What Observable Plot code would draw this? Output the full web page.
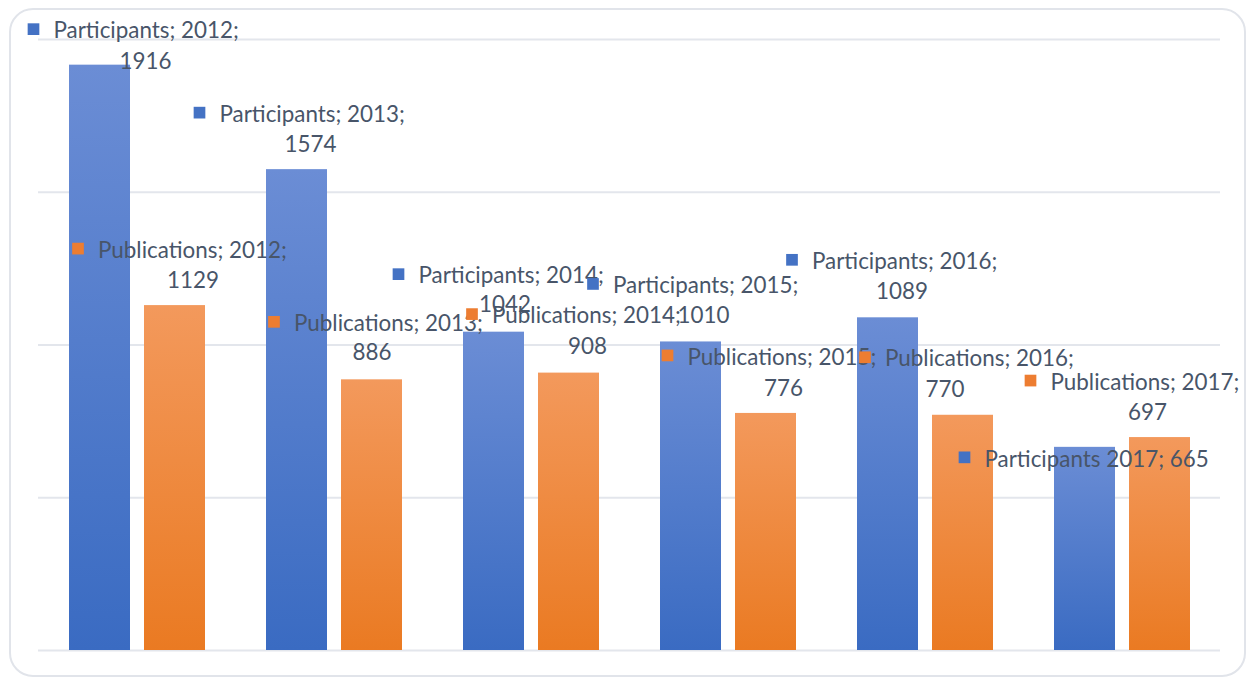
<!DOCTYPE html>
<html>
<head>
<meta charset="utf-8">
<script src="https://cdn.jsdelivr.net/npm/d3@7"></script>
<script src="https://cdn.jsdelivr.net/npm/@observablehq/plot@0.6"></script>
<style>
  html, body { margin: 0; padding: 0; background: #ffffff; }
  #wrap { position: relative; width: 1248px; height: 679px; overflow: hidden; }
  #frame { position: absolute; left: 9px; top: 8px; width: 1237px; height: 669px; box-sizing: border-box;
           border: 2px solid #e1e4ea; border-radius: 24px; }
  #chart { position: absolute; left: 0; top: 0; }
</style>
</head>
<body>
<div id="wrap"><div id="frame"></div><div id="chart"></div></div>
<script>
// ---- data ----
const years = ["2012", "2013", "2014", "2015", "2016", "2017"];
const seriesNames = ["Participants", "Publications"];
const participants = [1916, 1574, 1042, 1010, 1089, 665];
const publications = [1129, 886, 908, 776, 770, 697];
const gridTicks = [0, 500, 1000, 1500, 2000];
// label texts (line 1, line 2) as shown in the reference
const labelLine1 = {
  Participants: ["Participants; 2012;", "Participants; 2013;", "Participants; 2014;", "Participants; 2015;", "Participants; 2016;", "Participants 2017; 665"],
  Publications: ["Publications; 2012;", "Publications; 2013;", "Publications; 2014;", "Publications; 2015;", "Publications; 2016;", "Publications; 2017;"]
};
const labelLine2 = {
  Participants: ["1916", "1574", "1042", "1010", "1089", ""],
  Publications: ["1129", "886", "908", "776", "770", "697"]
};

// ---- layout (label offsets relative to the bar top, in px) ----
const labelLayout = {
  Participants: [
    {l1x: -46.5, l1y: -34, l2x: 45.5, l2y: -3},
    {l1x: -77.5, l1y: -55, l2x: 13.5, l2y: -25},
    {l1x: -75.5, l1y: -56, l2x: 11, l2y: -27},
    {l1x: -78, l1y: -56, l2x: 12.5, l2y: -26},
    {l1x: -76, l1y: -56, l2x: 14, l2y: -26},
    {l1x: -100.5, l1y: 12, l2x: 0, l2y: 0}
  ],
  Publications: [
    {l1x: -77, l1y: -55, l2x: 18, l2y: -25},
    {l1x: -78, l1y: -56, l2x: 0, l2y: -27},
    {l1x: -77, l1y: -57, l2x: 18.5, l2y: -26},
    {l1x: -78.5, l1y: -56, l2x: 17.5, l2y: -25},
    {l1x: -78, l1y: -56, l2x: -18, l2y: -25},
    {l1x: -109.5, l1y: -55, l2x: -12.5, l2y: -25}
  ]
};
const colors = {Participants: "#4472c4", Publications: "#ed7d31"};
const gradId = {Participants: "gradBlue", Publications: "gradOrange"};
const textColor = "#485569";
const fontFamily = "Lato, 'Open Sans', sans-serif";
const fontSize = 22.4;

// ---- table ----
const rows = [];
years.forEach((y, i) => {
  rows.push({year: y, series: "Participants", value: participants[i], i});
  rows.push({year: y, series: "Publications", value: publications[i], i});
});

const marks = [];
marks.push(Plot.ruleY(gridTicks, {stroke: "#e3e6ec", strokeWidth: 2}));
for (const s of seriesNames) {
  marks.push(Plot.barY(rows.filter(d => d.series === s), {
    fx: "year", x: "series", y: "value", fill: `url(#${gradId[s]})`
  }));
}
for (const d of rows) {
  const L = labelLayout[d.series][d.i];
  const t1 = labelLine1[d.series][d.i];
  const t2 = labelLine2[d.series][d.i];
  marks.push(Plot.dot([d], {
    fx: "year", x: "series", y: "value", dx: L.l1x - 20, dy: L.l1y - 2,
    symbol: "square", r: 6.6, fill: colors[d.series], stroke: "none"
  }));
  marks.push(Plot.text([d], {
    fx: "year", x: "series", y: "value", dx: L.l1x, dy: L.l1y,
    text: () => t1, textAnchor: "start", fill: textColor, fontSize
  }));
  if (t2) {
    marks.push(Plot.text([d], {
      fx: "year", x: "series", y: "value", dx: L.l2x, dy: L.l2y,
      text: () => t2, textAnchor: "middle", fill: textColor, fontSize
    }));
  }
}

const chart = Plot.plot({
  width: 1248,
  height: 679,
  marginLeft: 38,
  marginRight: 28,
  marginTop: 39,
  marginBottom: 29,
  style: {fontFamily, background: "transparent", overflow: "visible"},
  fx: {domain: years, padding: 0, axis: null, label: null},
  x: {domain: seriesNames, paddingInner: 0.1867, paddingOuter: 0.402, axis: null, label: null},
  y: {domain: [0, 2000], axis: null, label: null},
  marks
});

// gradients (per bar, top lighter)
const defs = d3.create("svg:defs");
const gradStops = {
  gradBlue: ["#6b8dd5", "#3a6bc2"],
  gradOrange: ["#f3995c", "#ea7a22"]
};
for (const [id, [top, bottom]] of Object.entries(gradStops)) {
  const g = defs.append("linearGradient").attr("id", id).attr("x1", 0).attr("y1", 0).attr("x2", 0).attr("y2", 1);
  g.append("stop").attr("offset", "0%").attr("stop-color", top);
  g.append("stop").attr("offset", "100%").attr("stop-color", bottom);
}
chart.insertBefore(defs.node(), chart.firstChild);
document.getElementById("chart").appendChild(chart);
</script>
</body>
</html>
